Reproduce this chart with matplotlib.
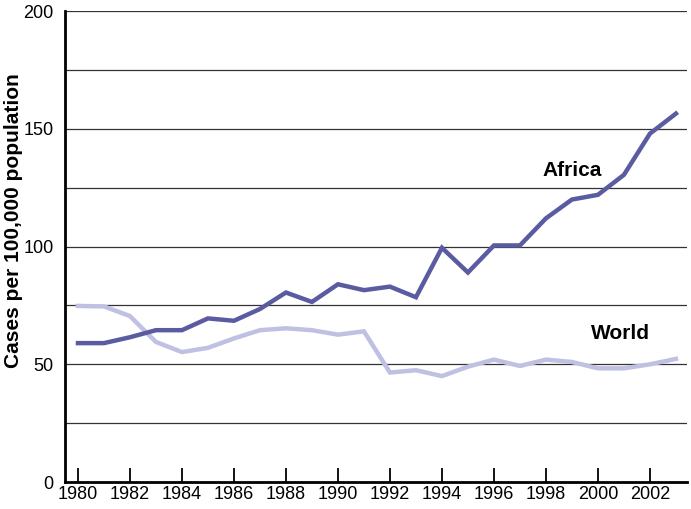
import matplotlib.pyplot as plt
import numpy as np

plt.rcParams['font.family'] = ['Liberation Sans', 'DejaVu Sans']

# 年份與資料
years = list(range(1980, 2004))
africa = [59, 59, 61.5, 64.5, 64.5, 69.5, 68.5, 73.5, 80.5, 76.5, 84, 81.5, 83,
          78.5, 99.5, 89, 100.5, 100.5, 112, 120, 122, 130.5, 148, 156.5]
world = [74.8, 74.6, 70.5, 59.5, 55.2, 57, 61, 64.5, 65.3, 64.5, 62.6, 64, 46.5,
         47.5, 45, 49, 52, 49.3, 52, 51, 48.3, 48.3, 50, 52.3]
xtick_years = list(range(1980, 2003, 2))
ytick_vals = [0, 50, 100, 150, 200]

africa_color = '#5b5ba2'
world_color = '#c0c0e2'

fig = plt.figure(figsize=(6.91, 5.09), dpi=100)
ax = fig.add_axes([0.094, 0.053, 0.9, 0.925])

# 格線
for g in np.arange(25, 201, 25):
    ax.axhline(g, color='#333333', linewidth=0.9, zorder=1)

ax.plot(years, world, color=world_color, linewidth=3.2, zorder=3, solid_joinstyle='miter')
ax.plot(years, africa, color=africa_color, linewidth=3.2, zorder=4, solid_joinstyle='miter')

ax.set_xlim(1979.5, 2003.42)
ax.set_ylim(0, 200)

ax.set_xticks(xtick_years)
ax.set_xticklabels([str(y) for y in xtick_years], fontsize=13)
ax.set_yticks(ytick_vals)
ax.set_yticklabels([str(v) for v in ytick_vals], fontsize=13)
ax.tick_params(axis='x', direction='in', length=10, width=1.3, pad=3, color='black')
ax.tick_params(axis='y', length=0, pad=8)

for s in ['top', 'right']:
    ax.spines[s].set_visible(False)
for s in ['left', 'bottom']:
    ax.spines[s].set_linewidth(2)
    ax.spines[s].set_color('black')

ax.set_ylabel('Cases per 100,000 population', fontsize=15, fontweight='bold')
ax.yaxis.set_label_coords(-0.068, 0.555)

ax.text(1999.0, 132.5, 'Africa', fontsize=15, fontweight='bold', ha='center', va='center')
ax.text(2000.85, 63.3, 'World', fontsize=15, fontweight='bold', ha='center', va='center')

fig.savefig('out.png', dpi=100)
